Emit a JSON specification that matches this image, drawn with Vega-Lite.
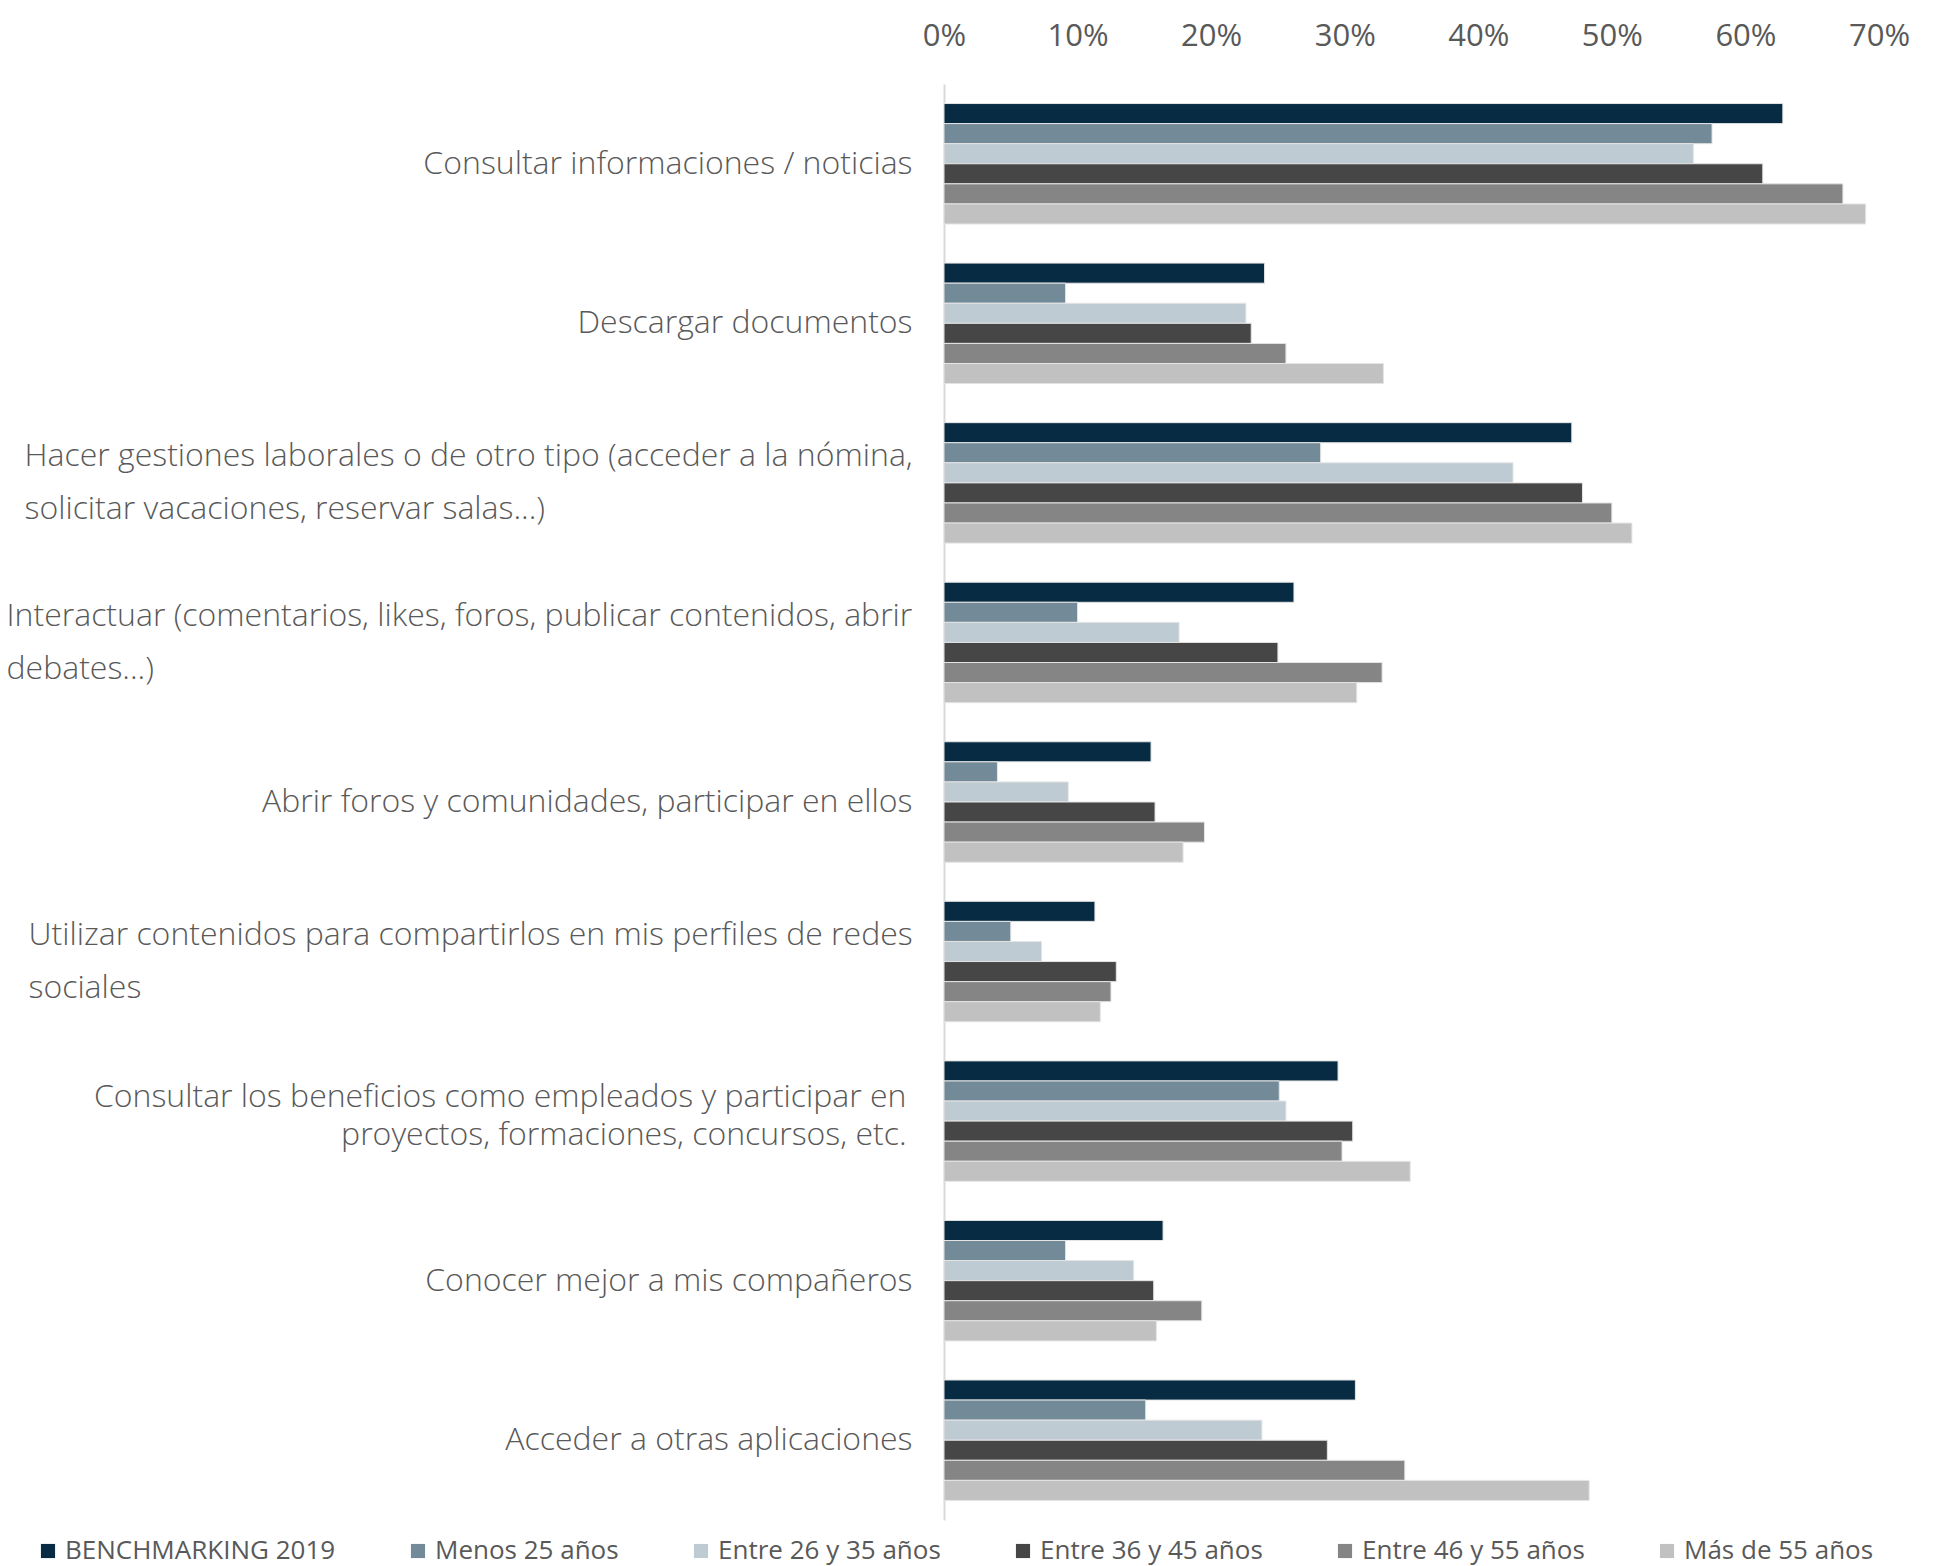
{
  "$schema": "https://vega.github.io/schema/vega-lite/v6.json",
  "autosize": {"type": "none"},
  "width": 935,
  "height": 1436,
  "padding": {"left": 944, "top": 84, "right": 56, "bottom": 46},
  "background": "white",
  "config": {"view": {"stroke": null}},
  "data": {"values": [
    {"cat": "Consultar informaciones / noticias", "serie": "BENCHMARKING 2019", "v": 0.628},
    {"cat": "Consultar informaciones / noticias", "serie": "Menos 25 años", "v": 0.575},
    {"cat": "Consultar informaciones / noticias", "serie": "Entre 26 y 35 años", "v": 0.561},
    {"cat": "Consultar informaciones / noticias", "serie": "Entre 36 y 45 años", "v": 0.613},
    {"cat": "Consultar informaciones / noticias", "serie": "Entre 46 y 55 años", "v": 0.673},
    {"cat": "Consultar informaciones / noticias", "serie": "Más de 55 años", "v": 0.690},
    {"cat": "Descargar documentos", "serie": "BENCHMARKING 2019", "v": 0.240},
    {"cat": "Descargar documentos", "serie": "Menos 25 años", "v": 0.091},
    {"cat": "Descargar documentos", "serie": "Entre 26 y 35 años", "v": 0.226},
    {"cat": "Descargar documentos", "serie": "Entre 36 y 45 años", "v": 0.230},
    {"cat": "Descargar documentos", "serie": "Entre 46 y 55 años", "v": 0.256},
    {"cat": "Descargar documentos", "serie": "Más de 55 años", "v": 0.329},
    {"cat": "Hacer gestiones laborales o de otro tipo (acceder a la nómina,\nsolicitar vacaciones, reservar salas...)", "serie": "BENCHMARKING 2019", "v": 0.470},
    {"cat": "Hacer gestiones laborales o de otro tipo (acceder a la nómina,\nsolicitar vacaciones, reservar salas...)", "serie": "Menos 25 años", "v": 0.282},
    {"cat": "Hacer gestiones laborales o de otro tipo (acceder a la nómina,\nsolicitar vacaciones, reservar salas...)", "serie": "Entre 26 y 35 años", "v": 0.426},
    {"cat": "Hacer gestiones laborales o de otro tipo (acceder a la nómina,\nsolicitar vacaciones, reservar salas...)", "serie": "Entre 36 y 45 años", "v": 0.478},
    {"cat": "Hacer gestiones laborales o de otro tipo (acceder a la nómina,\nsolicitar vacaciones, reservar salas...)", "serie": "Entre 46 y 55 años", "v": 0.500},
    {"cat": "Hacer gestiones laborales o de otro tipo (acceder a la nómina,\nsolicitar vacaciones, reservar salas...)", "serie": "Más de 55 años", "v": 0.515},
    {"cat": "Interactuar (comentarios, likes, foros, publicar contenidos, abrir\ndebates...)", "serie": "BENCHMARKING 2019", "v": 0.262},
    {"cat": "Interactuar (comentarios, likes, foros, publicar contenidos, abrir\ndebates...)", "serie": "Menos 25 años", "v": 0.100},
    {"cat": "Interactuar (comentarios, likes, foros, publicar contenidos, abrir\ndebates...)", "serie": "Entre 26 y 35 años", "v": 0.176},
    {"cat": "Interactuar (comentarios, likes, foros, publicar contenidos, abrir\ndebates...)", "serie": "Entre 36 y 45 años", "v": 0.250},
    {"cat": "Interactuar (comentarios, likes, foros, publicar contenidos, abrir\ndebates...)", "serie": "Entre 46 y 55 años", "v": 0.328},
    {"cat": "Interactuar (comentarios, likes, foros, publicar contenidos, abrir\ndebates...)", "serie": "Más de 55 años", "v": 0.309},
    {"cat": "Abrir foros y comunidades, participar en ellos", "serie": "BENCHMARKING 2019", "v": 0.155},
    {"cat": "Abrir foros y comunidades, participar en ellos", "serie": "Menos 25 años", "v": 0.040},
    {"cat": "Abrir foros y comunidades, participar en ellos", "serie": "Entre 26 y 35 años", "v": 0.093},
    {"cat": "Abrir foros y comunidades, participar en ellos", "serie": "Entre 36 y 45 años", "v": 0.158},
    {"cat": "Abrir foros y comunidades, participar en ellos", "serie": "Entre 46 y 55 años", "v": 0.195},
    {"cat": "Abrir foros y comunidades, participar en ellos", "serie": "Más de 55 años", "v": 0.179},
    {"cat": "Utilizar contenidos para compartirlos en mis perfiles de redes\nsociales", "serie": "BENCHMARKING 2019", "v": 0.113},
    {"cat": "Utilizar contenidos para compartirlos en mis perfiles de redes\nsociales", "serie": "Menos 25 años", "v": 0.050},
    {"cat": "Utilizar contenidos para compartirlos en mis perfiles de redes\nsociales", "serie": "Entre 26 y 35 años", "v": 0.073},
    {"cat": "Utilizar contenidos para compartirlos en mis perfiles de redes\nsociales", "serie": "Entre 36 y 45 años", "v": 0.129},
    {"cat": "Utilizar contenidos para compartirlos en mis perfiles de redes\nsociales", "serie": "Entre 46 y 55 años", "v": 0.125},
    {"cat": "Utilizar contenidos para compartirlos en mis perfiles de redes\nsociales", "serie": "Más de 55 años", "v": 0.117},
    {"cat": "Consultar los beneficios como empleados y participar en\nproyectos, formaciones, concursos, etc.", "serie": "BENCHMARKING 2019", "v": 0.295},
    {"cat": "Consultar los beneficios como empleados y participar en\nproyectos, formaciones, concursos, etc.", "serie": "Menos 25 años", "v": 0.251},
    {"cat": "Consultar los beneficios como empleados y participar en\nproyectos, formaciones, concursos, etc.", "serie": "Entre 26 y 35 años", "v": 0.256},
    {"cat": "Consultar los beneficios como empleados y participar en\nproyectos, formaciones, concursos, etc.", "serie": "Entre 36 y 45 años", "v": 0.306},
    {"cat": "Consultar los beneficios como empleados y participar en\nproyectos, formaciones, concursos, etc.", "serie": "Entre 46 y 55 años", "v": 0.298},
    {"cat": "Consultar los beneficios como empleados y participar en\nproyectos, formaciones, concursos, etc.", "serie": "Más de 55 años", "v": 0.349},
    {"cat": "Conocer mejor a mis compañeros", "serie": "BENCHMARKING 2019", "v": 0.164},
    {"cat": "Conocer mejor a mis compañeros", "serie": "Menos 25 años", "v": 0.091},
    {"cat": "Conocer mejor a mis compañeros", "serie": "Entre 26 y 35 años", "v": 0.142},
    {"cat": "Conocer mejor a mis compañeros", "serie": "Entre 36 y 45 años", "v": 0.157},
    {"cat": "Conocer mejor a mis compañeros", "serie": "Entre 46 y 55 años", "v": 0.193},
    {"cat": "Conocer mejor a mis compañeros", "serie": "Más de 55 años", "v": 0.159},
    {"cat": "Acceder a otras aplicaciones", "serie": "BENCHMARKING 2019", "v": 0.308},
    {"cat": "Acceder a otras aplicaciones", "serie": "Menos 25 años", "v": 0.151},
    {"cat": "Acceder a otras aplicaciones", "serie": "Entre 26 y 35 años", "v": 0.238},
    {"cat": "Acceder a otras aplicaciones", "serie": "Entre 36 y 45 años", "v": 0.287},
    {"cat": "Acceder a otras aplicaciones", "serie": "Entre 46 y 55 años", "v": 0.345},
    {"cat": "Acceder a otras aplicaciones", "serie": "Más de 55 años", "v": 0.483}
  ]},
  "mark": {"type": "bar", "stroke": "#e4e4e4", "strokeWidth": 1},
  "encoding": {
    "y": {
      "field": "cat", "type": "nominal", "sort": null, "title": null,
      "scale": {"paddingInner": 0.245, "paddingOuter": 0.1225},
      "axis": {
        "labelExpr": "split(datum.label, '\\n')",
        "labelFont": "Open Sans", "labelFontWeight": 300, "labelFontSize": 32,
        "labelColor": "#595959", "labelLimit": 1000,
        "labelAlign": {"expr": "(indexof(datum.value, 'Hacer') == 0 || indexof(datum.value, 'Interactuar') == 0 || indexof(datum.value, 'Utilizar') == 0) ? 'left' : 'right'"},
        "labelPadding": {"expr": "indexof(datum.value, 'Hacer') == 0 ? 920 : (indexof(datum.value, 'Interactuar') == 0 ? 938 : (indexof(datum.value, 'Utilizar') == 0 ? 916 : (indexof(datum.value, 'beneficios') >= 0 ? 38 : 32)))"},
        "labelLineHeight": {"expr": "indexof(datum.value, 'beneficios') >= 0 ? 38 : 53"},
        "labelOffset": {"expr": "indexof(datum.value, 'beneficios') >= 0 ? -24 : (indexof(datum.value, '\\n') >= 0 ? -26.5 : 0)"},
        "ticks": false, "domainColor": "#d9d9d9", "domainWidth": 2
      }
    },
    "yOffset": {
      "field": "serie", "type": "nominal",
      "sort": ["BENCHMARKING 2019", "Menos 25 años", "Entre 26 y 35 años", "Entre 36 y 45 años", "Entre 46 y 55 años", "Más de 55 años"],
      "scale": {"paddingInner": 0, "paddingOuter": 0}
    },
    "x": {
      "field": "v", "type": "quantitative", "title": null,
      "scale": {"domain": [0, 0.7], "nice": false},
      "axis": {
        "orient": "top", "format": ".0%", "values": [0, 0.1, 0.2, 0.3, 0.4, 0.5, 0.6, 0.7],
        "domain": false, "ticks": false, "tickSize": 0, "grid": false,
        "labelFont": "Open Sans", "labelFontSize": 31, "labelColor": "#595959",
        "labelPadding": 32, "labelFlush": false
      }
    },
    "color": {
      "field": "serie", "type": "nominal",
      "sort": ["BENCHMARKING 2019", "Menos 25 años", "Entre 26 y 35 años", "Entre 36 y 45 años", "Entre 46 y 55 años", "Más de 55 años"],
      "scale": {"range": ["#062B43", "#738A98", "#BECBD3", "#464646", "#858585", "#C1C1C1"]},
      "legend": {
        "title": null, "orient": "none", "direction": "horizontal", "columns": 6,
        "legendX": -909, "legendY": 1454,
        "symbolType": "square", "symbolSize": 200, "symbolStrokeWidth": 0,
        "labelFont": "Open Sans", "labelFontSize": 26, "labelColor": "#595959",
        "labelOffset": 4, "columnPadding": 69, "labelLimit": 400
      }
    }
  }
}
